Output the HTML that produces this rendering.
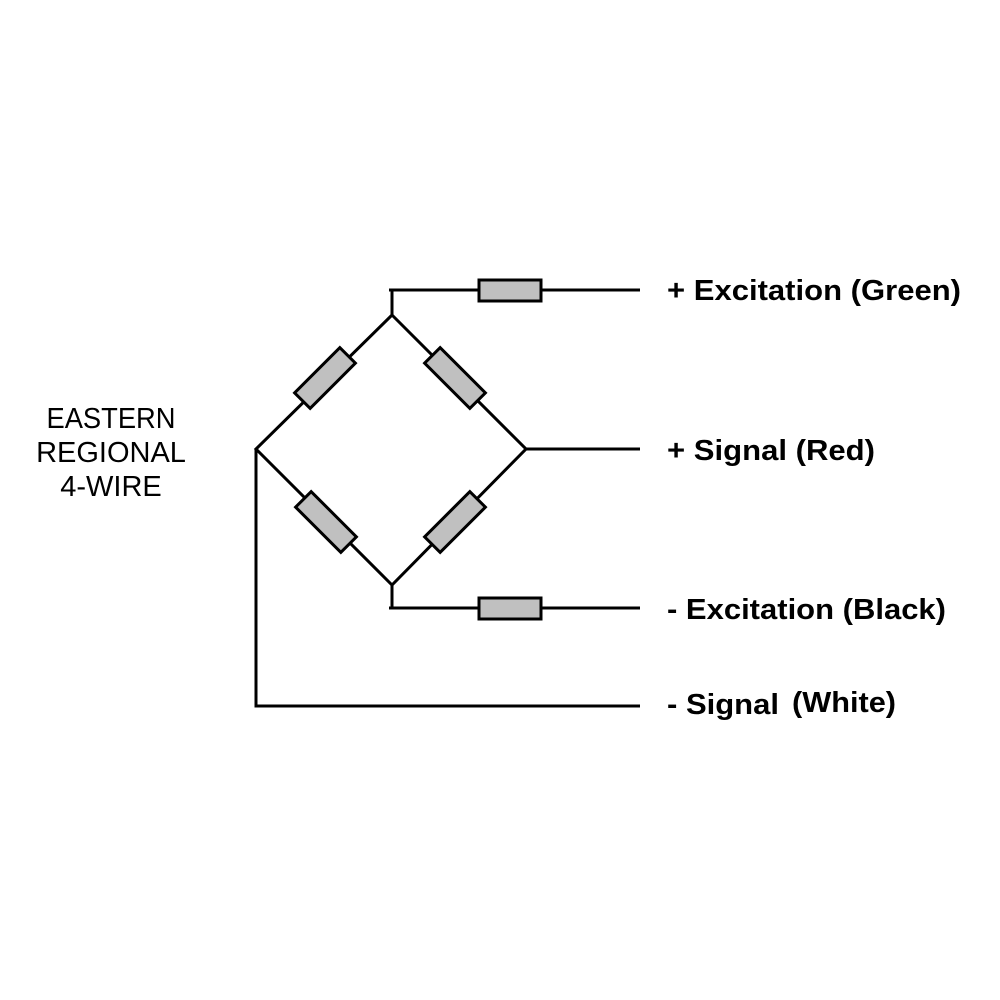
<!DOCTYPE html>
<html><head><style>body{margin:0;background:#fff}svg{display:block}</style></head><body>
<svg width="1000" height="1000" viewBox="0 0 1000 1000" xmlns="http://www.w3.org/2000/svg">
<g stroke="#000" stroke-width="3" fill="none" stroke-linecap="butt">
<polyline points="389,290 640,290"/>
<line x1="392" y1="289" x2="392" y2="315"/>
<polygon points="392,315 526,449 392,585 256,449"/>
<line x1="526" y1="449" x2="640" y2="449"/>
<line x1="392" y1="585" x2="392" y2="609"/>
<line x1="389" y1="608" x2="640" y2="608"/>
<polyline points="256,449 256,706 640,706"/>
</g>
<g stroke="#000" stroke-width="3" fill="#c0c0c0">
<rect x="479" y="280" width="62" height="21"/>
<rect x="479" y="598" width="62" height="21"/>
<rect x="-32" y="-11" width="64" height="22" transform="translate(325,378) rotate(-45)"/>
<rect x="-32" y="-11" width="64" height="22" transform="translate(455,378) rotate(45)"/>
<rect x="-32" y="-11" width="64" height="22" transform="translate(326,522) rotate(45)"/>
<rect x="-32" y="-11" width="64" height="22" transform="translate(455,522) rotate(-45)"/>
</g>
<g font-family="Liberation Sans, Arial, sans-serif" font-size="29" text-anchor="middle" fill="#000">
<text x="111" y="428" textLength="129" lengthAdjust="spacingAndGlyphs">EASTERN</text>
<text x="111" y="462">REGIONAL</text>
<text x="111" y="496">4-WIRE</text>
</g>
<g font-family="Liberation Sans, Arial, sans-serif" font-size="29" font-weight="bold" fill="#000">
<text x="667" y="300" textLength="294" lengthAdjust="spacingAndGlyphs">+ Excitation (Green)</text>
<text x="667" y="460" textLength="208" lengthAdjust="spacingAndGlyphs">+ Signal (Red)</text>
<text x="667" y="619" textLength="279" lengthAdjust="spacingAndGlyphs">- Excitation (Black)</text>
<text x="667" y="714" textLength="112" lengthAdjust="spacingAndGlyphs">- Signal</text>
<text x="792" y="712" textLength="104" lengthAdjust="spacingAndGlyphs">(White)</text>
</g>
</svg>
</body></html>
